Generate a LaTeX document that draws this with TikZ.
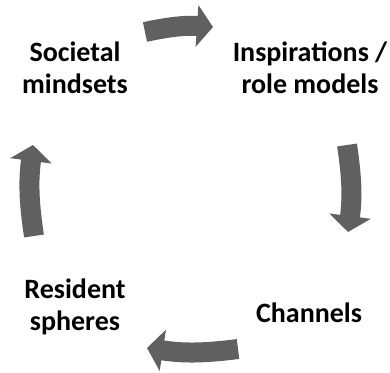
\documentclass[tikz,border=0pt]{standalone}
\usepackage{fontspec}
\setmainfont{Carlito}
\usetikzlibrary{arrows.meta}
\definecolor{cyclegray}{RGB}{96,96,96}
\tikzset{cyc/.style = {draw = cyclegray, line width = 20pt,
                       -{Triangle[length = 16pt, width = 41pt]}}}
\tikzset{stage/.style = {align = center, inner sep = 0,
                         font = \bfseries\fontsize{28}{32}\selectfont}}

\begin{document}
\begin{tikzpicture}[x = 1pt, y = 1pt]
      \useasboundingbox (0, 0) rectangle (390, 372);

      \node (soc) at (75, 304) [stage] {Societal\\mindsets};
      \node (insp) at (310, 304) [stage] {Inspirations /\\role models};
      \node (chan) at (309, 59) [stage] {Channels};
      \node (res) at (75, 65) [stage] {Resident\\spheres};

      \coordinate (a1) at (145, 340);
      \coordinate (b1) at (213, 345);
      \coordinate (a2) at (347, 227);
      \coordinate (b2) at (348, 140);
      \coordinate (a3) at (238, 23);
      \coordinate (b3) at (147, 24);
      \coordinate (a4) at (34, 136);
      \coordinate (b4) at (33, 227);

      \draw [cyc] (a1) to [bend left = 8] (b1);
      \draw [cyc] (a2) to [bend left = 8] (b2);
      \draw [cyc] (a3) to [bend left = 8] (b3);
      \draw [cyc] (a4) to [bend left = 8] (b4);
\end{tikzpicture}
\end{document}
